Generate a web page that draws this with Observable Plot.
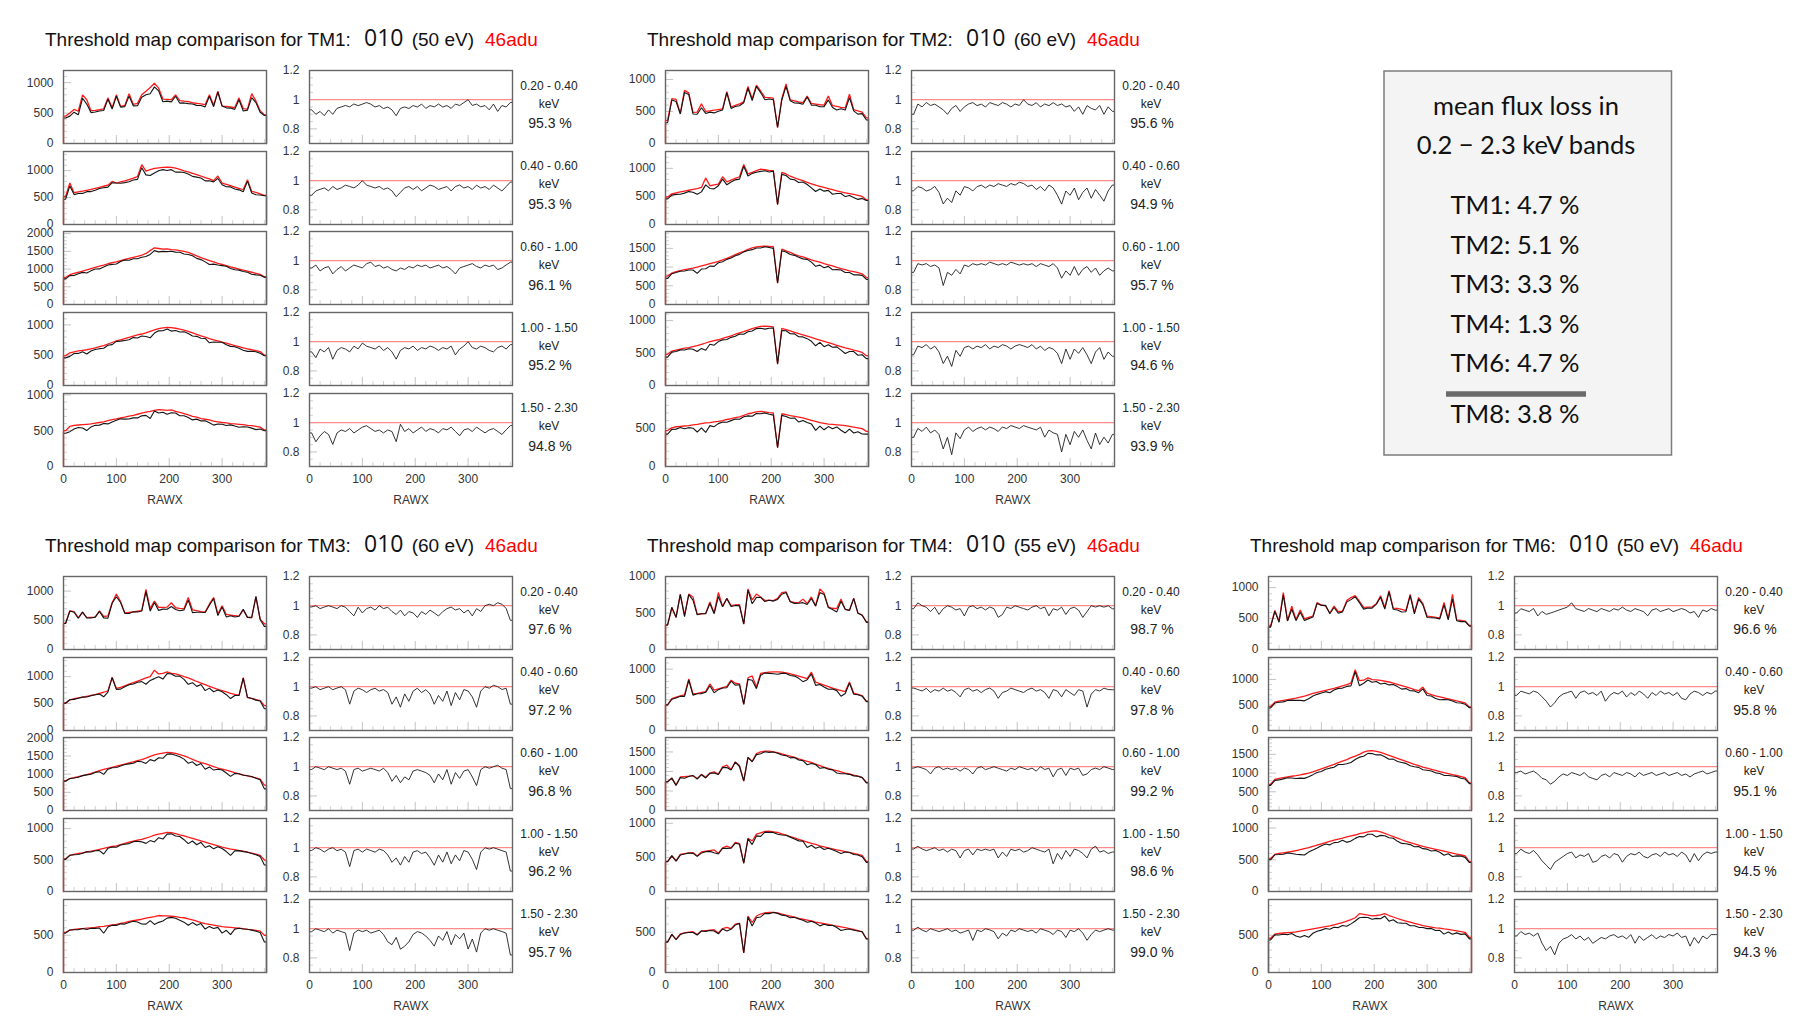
<!DOCTYPE html>
<html><head><meta charset="utf-8">
<script src="https://cdn.jsdelivr.net/npm/d3@7"></script>
<script src="https://cdn.jsdelivr.net/npm/@observablehq/plot@0.6"></script>
<style>
html,body{margin:0;padding:0;background:#fff;}
#page{position:relative;width:1805px;height:1031px;overflow:hidden;background:#fff;}
.panel{position:absolute;}
#overlay{position:absolute;left:0;top:0;pointer-events:none;}
</style></head><body><div id="page"></div>
<script>
// ---------------- DATA ----------------
// bin left edges (RAWX), 8-pixel bins
const RAWX = [0,8,16,24,32,40,48,56,64,72,80,88,96,104,112,120,128,136,144,152,160,168,176,184,192,200,208,216,224,232,240,248,256,264,272,280,288,296,304,312,320,328,336,344,352,360,368,376];
const BIN = 8;
const BANDS = ["0.20 - 0.40","0.40 - 0.60","0.60 - 1.00","1.00 - 1.50","1.50 - 2.30"];
const MODULES = ["TM1","TM2","TM3","TM4","TM6"];
const ENERGY_EV = [50, 60, 60, 55, 50];
const CONFIG_LABEL = "010";
const REF_LABEL = "46adu";
const TM1_PCT = [95.3, 95.3, 96.1, 95.2, 94.8];
const TM2_PCT = [95.6, 94.9, 95.7, 94.6, 93.9];
const TM3_PCT = [97.6, 97.2, 96.8, 96.2, 95.7];
const TM4_PCT = [98.7, 97.8, 99.2, 98.6, 99.0];
const TM6_PCT = [96.6, 95.8, 95.1, 94.5, 94.3];
const TM1_YMAX = [1200, 1355, 2060, 1205, 1020];
const TM2_YMAX = [1140, 1300, 1950, 1125, 955];
const TM3_YMAX = [1250, 1355, 2010, 1160, 980];
const TM4_YMAX = [1000, 1190, 1870, 1070, 905];
const TM6_YMAX = [1180, 1430, 1950, 1150, 980];
const LOSS_MODULES = ["TM1","TM2","TM3","TM4","TM6"];
const LOSS_PCT = [4.7, 5.1, 3.3, 1.3, 4.7];
const LOSS_TOTAL_LABEL = "TM8";
const LOSS_TOTAL = 3.8;

// red = 46adu reference map, black = 010 map (counts per 8-pixel bin)
const TM1_RED_B1 = [450,500,560,530,800,720,540,545,555,570,750,590,800,610,625,820,645,660,800,860,920,990,910,730,725,720,800,705,695,690,670,660,650,640,800,630,860,615,610,600,590,750,575,565,820,700,540,470];
const TM1_BLK_B1 = [419,450,515,472,744,648,508,518,533,542,728,566,776,598,606,779,619,620,760,800,819,931,865,686,696,684,776,663,667,656,650,627,624,602,776,605,843,615,586,582,561,720,535,548,754,672,513,461];
const TM1_RED_B2 = [520,770,590,605,620,635,650,670,690,710,730,800,770,790,810,835,860,890,1110,990,1020,1040,1050,1060,1065,1060,1045,1025,995,975,950,925,900,870,845,815,900,770,745,720,695,670,645,830,615,595,570,540];
const TM1_BLK_B2 = [468,716,555,575,577,610,611,637,669,682,694,776,770,766,778,793,826,837,1055,921,908,957,998,1018,1001,1018,972,974,965,936,893,879,864,809,811,791,855,739,700,698,660,643,606,805,584,553,547,535];
const TM1_RED_B3 = [760,840,880,910,945,975,1010,1045,1080,1110,1150,1180,1205,1240,1270,1300,1330,1360,1390,1440,1520,1600,1580,1560,1570,1550,1540,1520,1500,1470,1420,1370,1320,1280,1240,1200,1160,1130,1100,1060,1030,1000,970,940,910,880,850,780];
const TM1_BLK_B3 = [722,815,818,865,907,887,949,1003,1004,1055,1116,1133,1145,1215,1257,1248,1290,1292,1334,1354,1414,1520,1485,1498,1492,1504,1478,1474,1425,1411,1377,1302,1267,1203,1128,1140,1114,1096,1078,1018,979,970,931,912,855,836,825,772];
const TM1_RED_B4 = [490,540,555,570,580,590,605,620,640,660,685,710,735,755,775,795,815,835,850,870,895,920,940,950,960,955,945,930,915,895,870,845,820,800,775,755,735,715,700,680,660,640,620,605,590,575,560,500];
const TM1_BLK_B4 = [456,481,527,530,557,519,569,595,608,614,664,675,728,732,744,755,791,785,816,809,788,865,902,903,931,898,907,884,888,859,818,811,779,776,705,717,713,715,672,646,640,614,583,563,566,558,532,490];
const TM1_RED_B5 = [500,560,575,580,585,590,595,605,615,625,640,655,665,680,690,705,715,730,745,760,770,785,795,790,785,790,770,755,740,720,700,690,670,660,650,635,625,615,610,600,595,590,585,575,570,560,550,510];
const TM1_BLK_B5 = [465,487,523,545,538,502,553,575,578,600,595,622,645,666,662,663,679,679,708,714,670,777,747,758,730,751,747,710,710,684,651,662,637,640,611,578,594,590,573,582,565,549,556,552,536,515,523,500];

const TM2_RED_B1 = [360,700,690,470,830,790,485,490,620,500,510,520,530,540,810,570,595,620,650,890,700,910,820,720,715,710,250,700,930,680,665,650,640,740,625,615,605,600,740,590,580,565,555,770,530,510,490,400];
const TM2_BLK_B1 = [324,679,656,461,797,766,461,456,558,470,490,478,504,524,794,547,577,589,637,863,672,892,795,684,694,682,250,679,893,666,632,631,614,725,600,597,575,576,681,561,522,542,522,716,509,459,466,368];
const TM2_RED_B2 = [490,545,565,580,595,610,625,640,660,830,690,705,720,850,760,790,820,850,1070,900,930,960,985,975,965,960,360,930,900,860,830,805,780,750,725,700,680,660,640,620,600,580,565,550,535,520,500,440];
const TM2_BLK_B2 = [456,523,537,539,559,586,575,538,581,706,642,635,691,808,707,758,795,808,1038,864,911,931,946,956,936,950,353,893,873,808,797,749,757,713,653,588,632,594,608,539,552,551,497,517,482,447,465,427];
const TM2_RED_B3 = [760,840,880,905,930,950,970,1000,1030,1060,1090,1120,1150,1190,1230,1280,1330,1380,1420,1470,1510,1540,1555,1560,1555,1545,580,1480,1430,1390,1340,1300,1270,1230,1190,1160,1130,1090,1060,1030,990,960,930,900,880,850,820,720];
const TM2_BLK_B3 = [699,823,854,887,893,922,922,830,948,954,1025,1019,1116,1142,1205,1242,1303,1339,1406,1441,1465,1509,1508,1544,1524,1499,568,1436,1401,1334,1313,1261,1219,1205,1131,1021,1051,981,1018,927,931,922,856,855,792,791,779,670];
const TM2_RED_B4 = [480,530,545,560,575,585,600,615,635,655,675,690,705,725,745,765,790,810,830,855,875,895,910,915,910,905,340,880,860,840,820,800,780,760,740,720,700,680,660,640,620,600,580,565,545,530,510,460];
const TM2_BLK_B4 = [437,514,523,549,546,567,558,523,572,544,635,621,677,703,708,742,758,794,789,829,840,877,883,869,883,887,330,845,843,798,795,752,749,722,681,612,665,598,627,589,595,546,493,525,523,466,474,414];
const TM2_RED_B5 = [470,505,520,525,530,535,545,550,560,570,575,585,590,600,615,625,640,650,670,690,700,715,720,715,705,700,250,690,680,665,655,645,635,620,605,590,575,565,555,550,545,540,535,525,515,505,495,460];
const TM2_BLK_B5 = [423,485,489,509,493,508,501,451,504,445,535,521,561,582,578,600,621,618,650,662,658,694,691,701,684,672,245,669,653,632,635,581,603,577,557,472,529,480,522,495,518,475,439,488,438,455,426,423];

const TM3_RED_B1 = [450,660,650,540,640,545,550,555,660,565,575,800,950,820,625,635,645,655,665,1030,700,830,720,720,725,800,715,705,700,890,680,665,650,640,780,890,610,750,600,590,580,570,680,550,540,900,520,440];
const TM3_BLK_B1 = [446,660,637,535,640,540,539,555,653,542,535,792,903,804,619,616,645,642,658,989,658,805,670,691,689,736,686,663,679,846,632,638,637,634,757,872,580,728,558,578,557,570,687,550,551,909,510,396];
const TM3_RED_B2 = [510,570,590,605,620,635,650,665,690,710,735,990,780,800,830,860,890,915,945,975,1000,1120,1050,1060,1090,1060,1050,1030,1000,975,945,910,880,850,820,790,765,740,715,690,670,650,980,610,595,575,555,460];
const TM3_BLK_B2 = [505,570,578,599,620,622,644,665,676,625,713,980,764,768,813,851,863,897,907,858,930,963,998,954,1057,1049,1008,1009,950,858,888,819,854,740,787,719,750,718,665,593,650,650,970,616,595,564,549,405];
const TM3_RED_B3 = [820,880,905,935,960,990,1020,1060,1100,1130,1160,1190,1220,1250,1280,1310,1340,1370,1400,1440,1490,1530,1560,1580,1600,1590,1570,1540,1505,1460,1410,1360,1320,1290,1250,1210,1170,1140,1110,1080,1040,1010,980,955,925,895,865,700];
const TM3_BLK_B3 = [804,880,896,916,960,980,1000,1049,1067,994,1137,1178,1183,1225,1267,1284,1300,1356,1344,1296,1401,1362,1451,1438,1552,1558,1523,1478,1415,1299,1340,1238,1294,1135,1200,1113,1135,1117,1032,940,1019,1010,970,955,934,886,848,595];
const TM3_RED_B4 = [520,575,590,605,615,630,640,655,670,685,700,715,725,745,765,785,800,815,830,850,870,895,910,925,940,935,920,900,885,865,845,825,805,785,765,745,725,705,690,675,665,650,640,625,610,595,575,500];
const TM3_BLK_B4 = [510,575,584,587,609,630,627,648,650,596,686,708,703,738,750,761,792,799,789,765,809,788,855,833,912,916,883,873,823,761,803,743,781,699,727,678,711,684,635,574,645,650,634,625,604,583,558,420];
const TM3_RED_B5 = [540,570,580,585,590,595,600,605,615,620,630,640,645,660,670,685,695,705,715,730,740,750,765,760,760,755,750,740,735,720,705,690,670,655,645,635,625,615,610,605,600,595,590,580,575,565,555,500];
const TM3_BLK_B5 = [529,570,574,573,590,577,594,593,597,527,611,634,632,653,650,671,688,677,651,650,696,645,673,692,730,740,728,703,676,634,670,635,657,583,619,591,606,529,567,508,582,595,584,580,569,554,538,410];

const TM4_RED_B1 = [340,570,440,760,470,760,720,485,490,495,650,500,780,590,700,600,610,615,350,830,680,760,720,670,675,670,700,780,790,655,645,640,690,630,720,600,830,770,580,565,560,690,550,540,700,500,470,380];
const TM4_BLK_B1 = [333,581,440,752,451,752,677,475,490,490,631,490,725,584,700,588,604,597,347,813,626,714,713,657,675,663,686,757,782,655,632,634,642,617,698,594,780,755,574,548,515,662,550,535,700,495,470,372];
const TM4_RED_B2 = [420,520,545,565,580,840,595,605,620,635,760,660,680,700,720,820,770,760,430,860,890,710,930,945,950,955,955,950,940,925,905,885,865,845,950,790,765,740,715,690,670,650,635,790,610,590,570,480];
const TM4_BLK_B2 = [416,510,529,559,557,823,577,599,601,622,730,614,666,693,698,804,739,745,426,834,819,682,902,936,931,926,917,931,931,897,887,850,796,828,922,735,750,710,672,676,650,559,603,774,592,584,559,470];
const TM4_RED_B3 = [740,830,650,860,870,880,895,820,925,850,960,990,930,1120,1160,1050,1240,1150,760,1360,1260,1460,1500,1520,1520,1500,1480,1450,1420,1390,1360,1320,1290,1260,1230,1190,1150,1110,1080,1050,1020,990,960,935,905,880,850,720];
const TM4_BLK_B3 = [733,830,644,843,827,871,895,804,916,833,950,960,921,1098,1102,1040,1240,1127,752,1360,1247,1431,1455,1505,1490,1500,1465,1421,1406,1348,1360,1294,1277,1172,1205,1178,1081,1099,1058,1040,959,941,941,926,887,880,842,706];
const TM4_RED_B4 = [440,520,450,545,555,565,570,520,580,590,600,610,560,640,665,640,720,700,420,780,740,840,860,880,885,875,865,845,825,805,785,765,745,725,705,690,670,655,640,625,610,600,585,570,560,545,530,440];
const TM4_BLK_B4 = [436,525,446,534,549,565,559,515,563,584,588,567,549,634,632,634,706,693,412,772,688,815,808,871,867,866,839,828,825,797,769,742,738,645,677,635,657,616,634,613,586,558,579,576,543,534,509,427];
const TM4_RED_B5 = [380,470,410,480,490,500,505,470,515,520,525,530,490,545,560,540,600,610,245,700,620,700,725,740,745,745,740,725,710,700,685,670,660,650,640,625,615,605,595,585,575,565,555,545,535,520,505,420];
const TM4_BLK_B5 = [376,475,406,470,490,495,495,465,515,510,520,514,480,540,515,535,588,610,243,686,577,679,689,733,730,745,733,711,703,679,685,663,647,624,634,613,578,599,583,585,558,520,533,540,524,515,505,416];

const TM6_RED_B1 = [380,630,455,920,470,700,485,640,495,520,540,760,720,700,590,700,610,620,790,840,870,780,680,685,690,740,870,680,950,670,665,650,630,890,600,840,740,540,530,520,510,760,500,890,480,470,460,390];
const TM6_BLK_B1 = [361,617,441,883,461,651,466,602,470,499,524,745,713,714,578,679,586,608,766,806,853,757,653,671,669,733,844,653,931,650,638,605,611,872,576,815,725,518,514,510,495,722,480,819,466,451,451,378];
const TM6_RED_B2 = [470,555,575,590,605,620,635,655,675,700,725,745,765,785,805,825,850,875,900,930,1190,975,985,1030,995,990,980,965,950,930,905,880,855,830,800,780,850,730,705,680,660,640,620,600,580,560,540,460];
const TM6_BLK_B2 = [442,538,552,561,587,595,591,590,581,623,674,708,734,761,741,792,825,831,864,874,1154,878,926,989,945,960,911,926,893,902,860,810,821,780,776,741,816,686,677,626,601,608,601,576,545,538,513,446];
const TM6_RED_B3 = [700,830,860,880,900,915,930,950,975,1000,1030,1070,1110,1150,1190,1230,1280,1320,1360,1410,1450,1500,1560,1590,1600,1580,1550,1510,1470,1430,1390,1350,1310,1270,1230,1200,1160,1130,1100,1070,1040,1010,985,960,935,905,875,740];
const TM6_BLK_B3 = [672,805,817,845,873,869,856,865,858,900,958,1017,1043,1104,1131,1156,1229,1228,1251,1283,1363,1425,1451,1526,1520,1485,1488,1435,1367,1373,1307,1283,1258,1194,1169,1152,1090,1074,1056,1006,988,939,936,922,907,860,840,718];
const TM6_RED_B4 = [520,585,600,610,620,630,645,660,675,690,710,730,750,770,790,810,825,840,860,875,890,910,925,940,950,955,940,915,890,865,840,815,790,770,750,730,710,695,680,665,650,635,620,605,590,575,560,470];
const TM6_BLK_B4 = [499,579,582,586,608,599,587,581,574,621,653,686,720,747,735,770,776,806,774,796,837,865,860,902,903,860,884,878,846,839,790,758,751,739,705,708,675,667,639,645,618,572,595,551,561,558,538,456];
const TM6_RED_B5 = [460,515,525,530,535,540,545,555,565,575,585,595,605,615,625,640,655,670,690,710,735,790,780,770,760,765,775,790,765,745,725,705,690,675,660,645,630,620,610,600,595,585,580,570,560,550,540,470];
const TM6_BLK_B5 = [437,505,504,514,508,524,491,472,497,472,527,553,569,590,581,608,603,630,621,653,691,735,741,739,714,727,721,758,689,708,667,663,662,628,627,606,605,589,592,564,565,515,545,513,532,512,518,451];

// tables built from the arrays above
const TABLE = {
  TM1: {red:[TM1_RED_B1,TM1_RED_B2,TM1_RED_B3,TM1_RED_B4,TM1_RED_B5], black:[TM1_BLK_B1,TM1_BLK_B2,TM1_BLK_B3,TM1_BLK_B4,TM1_BLK_B5], ymax:TM1_YMAX, pct:TM1_PCT},
  TM2: {red:[TM2_RED_B1,TM2_RED_B2,TM2_RED_B3,TM2_RED_B4,TM2_RED_B5], black:[TM2_BLK_B1,TM2_BLK_B2,TM2_BLK_B3,TM2_BLK_B4,TM2_BLK_B5], ymax:TM2_YMAX, pct:TM2_PCT},
  TM3: {red:[TM3_RED_B1,TM3_RED_B2,TM3_RED_B3,TM3_RED_B4,TM3_RED_B5], black:[TM3_BLK_B1,TM3_BLK_B2,TM3_BLK_B3,TM3_BLK_B4,TM3_BLK_B5], ymax:TM3_YMAX, pct:TM3_PCT},
  TM4: {red:[TM4_RED_B1,TM4_RED_B2,TM4_RED_B3,TM4_RED_B4,TM4_RED_B5], black:[TM4_BLK_B1,TM4_BLK_B2,TM4_BLK_B3,TM4_BLK_B4,TM4_BLK_B5], ymax:TM4_YMAX, pct:TM4_PCT},
  TM6: {red:[TM6_RED_B1,TM6_RED_B2,TM6_RED_B3,TM6_RED_B4,TM6_RED_B5], black:[TM6_BLK_B1,TM6_BLK_B2,TM6_BLK_B3,TM6_BLK_B4,TM6_BLK_B5], ymax:TM6_YMAX, pct:TM6_PCT}
};

// ---------------- LAYOUT ----------------
const FW = 203, FH = 73;            // frame size of every small panel
const ROW0 = 70, ROW_STEP = 80.7;   // first row top and row pitch inside a block
const COUNT_LEFT = 63.3, RATIO_LEFT = 309.3, LABEL_X = 549;
const BLOCK_POS = {TM1:[0,0], TM2:[602,0], TM3:[0,506], TM4:[602,506], TM6:[1205,506]};
const FONT = "'Liberation Sans', Arial, Helvetica, sans-serif";
const STYLE = {fontFamily: FONT, fontSize: "12px", color: "#333", background: "transparent", overflow: "visible"};
const X_MAJOR = [0,100,200,300];
const X_MINOR = d3.range(20, 384, 20).filter(v => v % 100 !== 0);

const page = document.getElementById("page");

// polyline through bin centres; histogram edges drop to the baseline when asked
function path(vals, drop) {
  const pts = [];
  if (drop) pts.push({x: 0, y: 0});
  pts.push({x: 0, y: vals[0]});
  vals.forEach((v, i) => pts.push({x: RAWX[i] + BIN / 2, y: v}));
  pts.push({x: 384, y: vals[vals.length - 1]});
  if (drop) pts.push({x: 384, y: 0});
  return pts;
}
function xScale(bottom) {
  return bottom
    ? {domain: [0, 384], ticks: X_MAJOR, tickSize: 0, tickPadding: 8, label: "RAWX", labelAnchor: "center", labelOffset: 37, labelArrow: "none"}
    : {domain: [0, 384], axis: null};
}
function place(node, left, top) {
  node.classList.add("panel");
  node.style.left = left + "px";
  node.style.top = top + "px";
  page.appendChild(node);
}
function countPlot(red, black, ymax, bottom) {
  const mL = 44, mR = 2, mT = 8, mB = bottom ? 54 : 2;
  const major = d3.range(0, ymax + 1, 500);
  const minor = d3.range(100, ymax + 1, 100).filter(v => v % 500 !== 0);
  return Plot.plot({
    width: FW + mL + mR, height: FH + mT + mB,
    marginLeft: mL, marginRight: mR, marginTop: mT, marginBottom: mB,
    style: STYLE,
    x: xScale(bottom),
    y: {domain: [0, ymax], ticks: major, tickSize: 0, tickPadding: 10, label: null, tickFormat: d => String(d)},
    marks: [
      Plot.tickY(minor, {y: d => d, stroke: "#d2d2d2", insetRight: FW - 4}),
      Plot.tickY(major, {y: d => d, stroke: "#c4c4c4", insetRight: FW - 8}),
      Plot.tickX(X_MINOR, {x: d => d, stroke: "#d2d2d2", insetTop: FH - 4}),
      Plot.tickX(X_MAJOR, {x: d => d, stroke: "#c4c4c4", insetTop: FH - 8}),
      Plot.line(path(red, true), {x: "x", y: "y", stroke: "#ff1a1a", strokeWidth: 1.3, strokeLinejoin: "miter"}),
      Plot.line(path(black, true), {x: "x", y: "y", stroke: "#141414", strokeWidth: 1.1, strokeLinejoin: "miter"}),
      Plot.frame({stroke: "#666", strokeWidth: 1.4})
    ]
  });
}
function ratioPlot(red, black, bottom) {
  const mL = 40, mR = 2, mT = 8, mB = bottom ? 54 : 2;
  const ratio = red.map((r, i) => black[i] / r);
  const minor = [0.75, 0.85, 0.9, 0.95, 1.05, 1.1, 1.15];
  return Plot.plot({
    width: FW + mL + mR, height: FH + mT + mB,
    marginLeft: mL, marginRight: mR, marginTop: mT, marginBottom: mB,
    style: STYLE,
    x: xScale(bottom),
    y: {domain: [0.7, 1.2], ticks: [0.8, 1, 1.2], tickSize: 0, tickPadding: 10, label: null, tickFormat: d => String(Math.round(d * 10) / 10)},
    marks: [
      Plot.tickY(minor, {y: d => d, stroke: "#d2d2d2", insetRight: FW - 4}),
      Plot.tickY([0.8, 1, 1.2], {y: d => d, stroke: "#c4c4c4", insetRight: FW - 8}),
      Plot.tickX(X_MINOR, {x: d => d, stroke: "#d2d2d2", insetTop: FH - 4}),
      Plot.tickX(X_MAJOR, {x: d => d, stroke: "#c4c4c4", insetTop: FH - 8}),
      Plot.ruleY([1], {stroke: "#ff8a8a", strokeWidth: 1.2}),
      Plot.line(path(ratio, false), {x: "x", y: "y", stroke: "#1e1e1e", strokeWidth: 0.9, clip: true}),
      Plot.frame({stroke: "#666", strokeWidth: 1.4})
    ]
  });
}

try {
  for (const tm of MODULES) for (const k of ["red", "black"]) TABLE[tm][k].forEach((a, b) => { if (a.length !== 48) throw new Error(tm + " " + k + " band " + (b + 1) + " has " + a.length); });

  const svg = d3.select(page).append("svg").attr("id", "overlay").attr("width", 1805).attr("height", 1031);

  MODULES.forEach((tm, m) => {
    const [bx, by] = BLOCK_POS[tm];
    const T = TABLE[tm];
    const t = svg.append("text").attr("y", by + 46).attr("fill", "#111")
      .style("font-family", FONT).style("font-size", "19px");
    t.append("tspan").attr("x", bx + 45).text(`Threshold map comparison for ${tm}:`);
    t.append("tspan").attr("x", bx + 364).style("font-family", "'Open Sans', 'Noto Sans', sans-serif").style("font-size", "23px").text(CONFIG_LABEL);
    t.append("tspan").attr("x", bx + 411.7).text(`(${ENERGY_EV[m]} eV)`);
    t.append("tspan").attr("x", bx + 485).attr("fill", "#ff0000").text(REF_LABEL);

    for (let b = 0; b < 5; b++) {
      const top = by + ROW0 + b * ROW_STEP;
      const bottom = b === 4;
      place(countPlot(T.red[b], T.black[b], T.ymax[b], bottom), bx + COUNT_LEFT - 44, top - 8);
      place(ratioPlot(T.red[b], T.black[b], bottom), bx + RATIO_LEFT - 40, top - 8);
      const g = svg.append("g").attr("text-anchor", "middle").attr("fill", "#222").style("font-family", FONT);
      g.append("text").attr("x", bx + LABEL_X).attr("y", top + 19.5).style("font-size", "12px").text(BANDS[b]);
      g.append("text").attr("x", bx + LABEL_X).attr("y", top + 37.5).style("font-size", "12px").text("keV");
      g.append("text").attr("x", bx + LABEL_X + 1).attr("y", top + 58.3).style("font-size", "14px").text(`${T.pct[b].toFixed(1)} %`);
    }
  });

  const box = svg.append("g");
  box.append("rect").attr("x", 1384).attr("y", 71).attr("width", 287.5).attr("height", 384)
    .attr("fill", "#f4f4f4").attr("stroke", "#7c7c7c").attr("stroke-width", 1.5);
  const bf = "Lato, 'Open Sans', sans-serif";
  const bt = box.append("g").attr("text-anchor", "middle").attr("fill", "#111").style("font-family", bf).style("font-size", "25.5px");
  bt.append("text").attr("x", 1526).attr("y", 115).text("mean flux loss in");
  bt.append("text").attr("x", 1526).attr("y", 154.3).text("0.2 \u2212 2.3 keV bands");
  const lineY = [214, 254, 293.3, 332.7, 372.3];
  LOSS_MODULES.forEach((name, i) => bt.append("text").attr("x", 1515).attr("y", lineY[i]).text(`${name}: ${LOSS_PCT[i].toFixed(1)} %`));
  box.append("line").attr("x1", 1446).attr("x2", 1586).attr("y1", 394).attr("y2", 394).attr("stroke", "#6b6b6b").attr("stroke-width", 5.3);
  bt.append("text").attr("x", 1515).attr("y", 423.3).text(`${LOSS_TOTAL_LABEL}: ${LOSS_TOTAL.toFixed(1)} %`);
} catch (e) {
  const pre = document.createElement("pre");
  pre.style.color = "red";
  pre.textContent = String(e && e.stack || e);
  page.appendChild(pre);
}
</script>
</body></html>
